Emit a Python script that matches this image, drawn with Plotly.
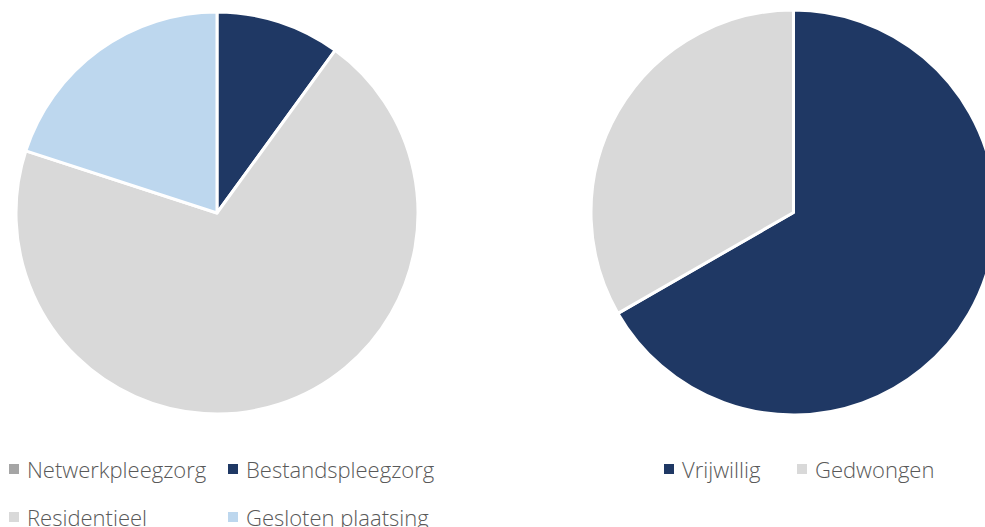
import plotly.graph_objects as go

W, H = 1000, 527

left_labels = ["Netwerkpleegzorg", "Bestandspleegzorg", "Residentieel", "Gesloten plaatsing"]
left_values = [0, 10, 70, 20]
left_colors = ["#A5A5A5", "#1F3864", "#D9D9D9", "#BDD7EE"]

right_labels = ["Vrijwillig", "Gedwongen"]
right_values = [66.7, 33.3]
right_colors = ["#1F3864", "#D9D9D9"]

def px_x(v):
    return v / W

def px_y(v):
    return 1 - v / H

fig = go.Figure()
fig.add_trace(go.Pie(
    labels=left_labels, values=left_values, sort=False, direction="clockwise",
    rotation=0, textinfo="none", hoverinfo="label+value",
    marker=dict(colors=left_colors, line=dict(color="white", width=3)),
    domain=dict(x=[px_x(16), px_x(418)], y=[px_y(414), px_y(12)]),
    showlegend=False,
))
fig.add_trace(go.Pie(
    labels=right_labels, values=right_values, sort=False, direction="clockwise",
    rotation=0, textinfo="none", hoverinfo="label+value",
    marker=dict(colors=right_colors, line=dict(color="white", width=3)),
    domain=dict(x=[px_x(591), px_x(996)], y=[px_y(415), px_y(10)]),
    showlegend=False,
))

font = dict(family="Open Sans", size=22, color="#595959", weight=300)
shapes = []
annotations = []

def legend_item(mx, my, color, text):
    shapes.append(dict(type="rect", xref="paper", yref="paper",
                       x0=px_x(mx), x1=px_x(mx + 10), y0=px_y(my + 5), y1=px_y(my - 5),
                       fillcolor=color, line=dict(width=0)))
    annotations.append(dict(xref="paper", yref="paper", x=px_x(mx + 16), y=px_y(my),
                            xanchor="left", yanchor="middle", text=text, showarrow=False,
                            font=font))

left_pos = [(9, 469), (228, 469), (9, 517), (228, 517)]
for (mx, my), c, t in zip(left_pos, left_colors, left_labels):
    legend_item(mx, my, c, t)
right_pos = [(664, 469), (797, 469)]
for (mx, my), c, t in zip(right_pos, right_colors, right_labels):
    legend_item(mx, my, c, t)

fig.update_layout(width=W, height=H, margin=dict(l=0, r=0, t=0, b=0),
                  paper_bgcolor="white", plot_bgcolor="white",
                  shapes=shapes, annotations=annotations)

fig.write_html("out.html", post_script="document.body.style.overflow='hidden';document.documentElement.style.overflow='hidden';document.body.style.margin='0';")
